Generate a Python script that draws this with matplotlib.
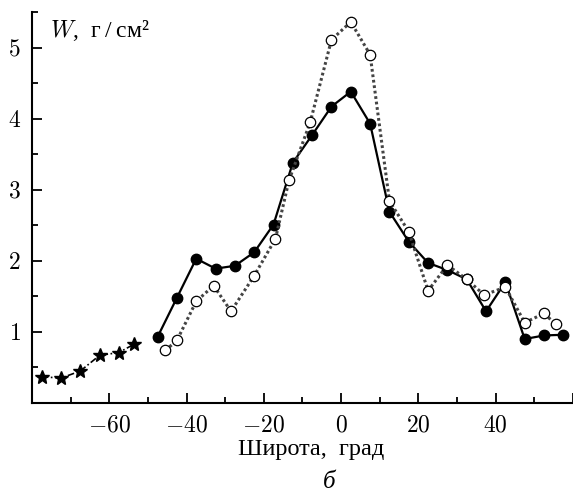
import matplotlib
matplotlib.use("Agg")
import matplotlib.pyplot as plt
from matplotlib.ticker import MultipleLocator, FuncFormatter

plt.rcParams['mathtext.fontset'] = 'cm'
plt.rcParams['font.family'] = ['Liberation Serif', 'DejaVu Serif']

# звёздочки (южные широты)
lat_star = [-77.5, -72.5, -67.5, -62.5, -57.5, -53.5]
w_star = [0.37, 0.35, 0.45, 0.67, 0.71, 0.83]

# залитые кружки
lat_full = [-47.5, -42.5, -37.5, -32.5, -27.5, -22.5, -17.5, -12.5, -7.5, -2.5,
            2.5, 7.5, 12.5, 17.5, 22.5, 27.5, 32.5, 37.5, 42.5, 47.5, 52.5, 57.5]
w_full = [0.93, 1.48, 2.03, 1.89, 1.93, 2.12, 2.51, 3.38, 3.77, 4.17,
          4.38, 3.93, 2.69, 2.27, 1.97, 1.87, 1.74, 1.29, 1.70, 0.90, 0.95, 0.96]

# пустые кружки
lat_open = [-45.5, -42.5, -37.5, -33.0, -28.5, -22.5, -17.0, -13.5, -8.0, -2.5,
            2.5, 7.5, 12.5, 17.5, 22.5, 27.5, 32.5, 37.0, 42.5, 47.5, 52.5, 55.5]
w_open = [0.74, 0.88, 1.43, 1.65, 1.29, 1.79, 2.31, 3.13, 3.95, 5.11,
          5.36, 4.90, 2.84, 2.41, 1.58, 1.94, 1.74, 1.52, 1.63, 1.13, 1.26, 1.11]

fig = plt.figure(figsize=(5.73, 4.92), dpi=100)
ax = fig.add_axes([32 / 573, 1 - 403 / 492, 1 - 32 / 573, (403 - 12) / 492])

ax.plot(lat_star, w_star, color='black', lw=1.2, linestyle=(0, (4, 1.5, 1, 1.5)),
        marker='*', markersize=10, markerfacecolor='black', markeredgecolor='black')
ax.plot(lat_full, w_full, color='black', lw=1.6, marker='o', markersize=7.5,
        markerfacecolor='black', markeredgecolor='black')
ax.plot(lat_open, w_open, color='#444444', lw=2.2, linestyle=(0, (0.9, 0.9)),
        marker='o', markersize=7.5, markerfacecolor='white',
        markeredgecolor='black', markeredgewidth=0.9)

ax.set_xlim(-80, 60)
ax.set_ylim(0, 5.5)
ax.spines['top'].set_visible(False)
ax.spines['right'].set_visible(False)
for s in ('left', 'bottom'):
    ax.spines[s].set_linewidth(1.5)

ax.xaxis.set_major_locator(MultipleLocator(20))
ax.xaxis.set_minor_locator(MultipleLocator(10))
ax.yaxis.set_major_locator(MultipleLocator(1))
ax.yaxis.set_minor_locator(MultipleLocator(0.5))
ax.tick_params(which='both', direction='in', width=1.3)
ax.tick_params(which='major', length=7, labelsize=17)
ax.tick_params(which='minor', length=4)
ax.tick_params(axis='x', pad=9)
ax.tick_params(axis='y', pad=8)
ax.xaxis.set_major_formatter(FuncFormatter(lambda v, p: '' if v in (-80, 60) else r'$%d$' % v))
ax.yaxis.set_major_formatter(FuncFormatter(lambda v, p: '' if v == 0 else r'$%d$' % v))

fig.text(50 / 573, 1 - 37 / 492, '$W$,  г\u2009/\u2009см²', fontsize=17,
         ha='left', va='baseline')
fig.text(311 / 573, 1 - 449 / 492, 'Широта,  град', fontsize=17.5, ha='center', va='center')
fig.text(329 / 573, 1 - 482 / 492, 'б', fontsize=18, ha='center', va='center', style='italic')

fig.savefig('out.png', dpi=100)
